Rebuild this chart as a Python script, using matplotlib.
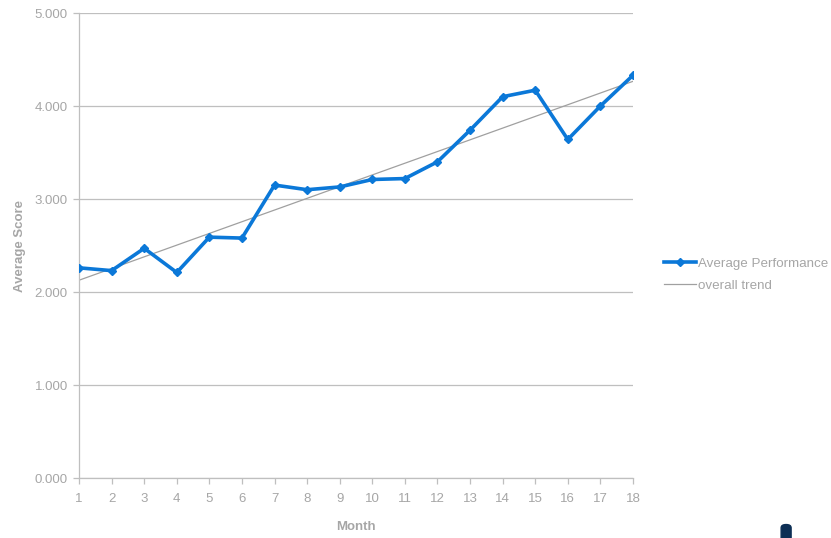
import numpy as np
import matplotlib
matplotlib.use('Agg')
import matplotlib.pyplot as plt
from matplotlib.patches import FancyBboxPatch

months = list(range(1, 19))
avg_score = [2.26, 2.23, 2.47, 2.21, 2.59, 2.58, 3.15, 3.10, 3.13, 3.21,
             3.22, 3.40, 3.74, 4.10, 4.17, 3.64, 4.00, 4.33]
y_ticks = [0, 1, 2, 3, 4, 5]

plt.rcParams['font.family'] = ['Liberation Sans', 'DejaVu Sans']
GRAY = '#a6a6a6'
GRID = '#bfbfbf'
BLUE = '#0b78d8'

fig = plt.figure(figsize=(8.31, 5.38), dpi=100)
ax = fig.add_axes([0.0951, 0.1115, 0.6666, 0.8643])

# linear trend of the series
coef = np.polyfit(months, avg_score, 1)
trend = np.polyval(coef, months)

ax.plot(months, avg_score, color=BLUE, lw=2.6, marker='D', ms=4.5,
        label='Average Performance', zorder=3)
ax.plot(months, trend, color='#a0a0a0', lw=0.9, label='overall trend', zorder=2)

ax.set_xlim(1, 18)
ax.set_ylim(0, 5)
ax.set_xticks(months)
ax.set_yticks(y_ticks)
ax.set_yticklabels([f'{v:.3f}' for v in y_ticks])
ax.yaxis.grid(True, color=GRID, lw=0.9)
ax.set_axisbelow(True)

for s in ['top', 'right']:
    ax.spines[s].set_visible(False)
for s in ['left', 'bottom']:
    ax.spines[s].set_color(GRID)
    ax.spines[s].set_linewidth(0.9)

ax.tick_params(axis='both', colors=GRID, labelcolor=GRAY, labelsize=9.5,
               length=4, width=0.9)
ax.tick_params(axis='x', pad=7)
ax.tick_params(axis='y', pad=4)

ax.set_xlabel('Month', color=GRAY, fontsize=9.5, fontweight='bold', labelpad=11)
ax.set_ylabel('Average Score', color=GRAY, fontsize=9.5, fontweight='bold', labelpad=6)

leg = ax.legend(loc='center left', bbox_to_anchor=(1.035, 0.437), frameon=False,
                fontsize=9.6, handlelength=2.4, handletextpad=0.1, labelspacing=0.75)
for t in leg.get_texts():
    t.set_color(GRAY)

# small dark mark at the bottom right of the image
fig.patches.append(FancyBboxPatch((0.940, -0.01), 0.012, 0.035,
                                  boxstyle='round,pad=0,rounding_size=0.006',
                                  transform=fig.transFigure, color='#0d2f55'))

fig.savefig('out.png', dpi=100)
